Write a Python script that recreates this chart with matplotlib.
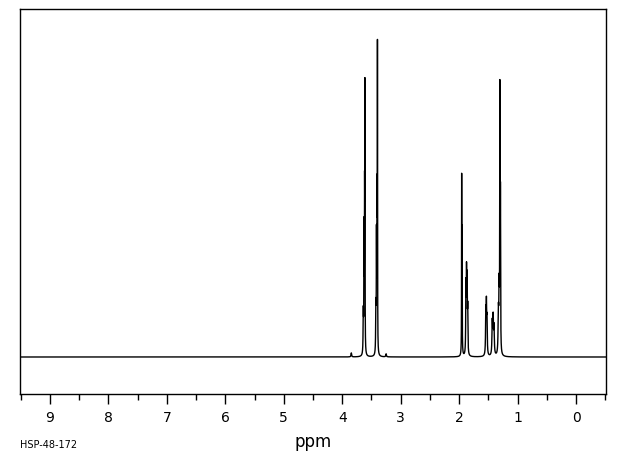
import numpy as np
import matplotlib
matplotlib.use("Agg")
import matplotlib.pyplot as plt
from matplotlib.ticker import MultipleLocator

# peak list: position (ppm), height (px above baseline), half width (ppm)
peak_ppm = [3.845, 3.64, 3.628, 3.618, 3.612, 3.425, 3.415, 3.405, 3.398, 3.25,
            1.958, 1.952, 1.885, 1.875, 1.865, 1.855, 1.545, 1.535, 1.525,
            1.435, 1.420, 1.405, 1.330, 1.318, 1.305, 1.295]
peak_height = [4, 40, 120, 150, 245, 45, 110, 150, 290, 3,
               160, 115, 65, 75, 68, 42, 40, 46, 32,
               32, 36, 27, 40, 60, 255, 150]
peak_width = [0.006, 0.004, 0.003, 0.003, 0.002, 0.004, 0.003, 0.003, 0.002, 0.006,
              0.002, 0.003, 0.004, 0.004, 0.004, 0.004, 0.005, 0.005, 0.005,
              0.006, 0.006, 0.006, 0.006, 0.005, 0.003, 0.003]

ppm = np.linspace(9.6, -0.6, 40000)
spec = np.zeros_like(ppm)
for p, h, w in zip(peak_ppm, peak_height, peak_width):
    spec += h * w**2 / ((ppm - p)**2 + w**2)

fig = plt.figure(figsize=(6.2, 4.55), dpi=100)
ax = fig.add_axes([20/620, 1 - 394/455, 586/620, 385/455])
ax.plot(ppm, spec, color="black", lw=1.0)
ax.set_xlim(9.51, -0.51)
ax.set_ylim(-37, 348)
ax.set_yticks([])
ax.xaxis.set_major_locator(MultipleLocator(1))
ax.xaxis.set_minor_locator(MultipleLocator(0.5))
ax.tick_params(axis="x", which="major", direction="out", length=7, width=1, labelsize=10, pad=5)
ax.tick_params(axis="x", which="minor", direction="out", length=4, width=1)
for s in ax.spines.values():
    s.set_linewidth(1)
fig.text(313/620, 1 - 442/455, "ppm", fontsize=12, ha="center", va="center")
fig.text(20/620, 1 - 445/455, "HSP-48-172", fontsize=7, va="center")

fig.savefig("out.png", dpi=100)
